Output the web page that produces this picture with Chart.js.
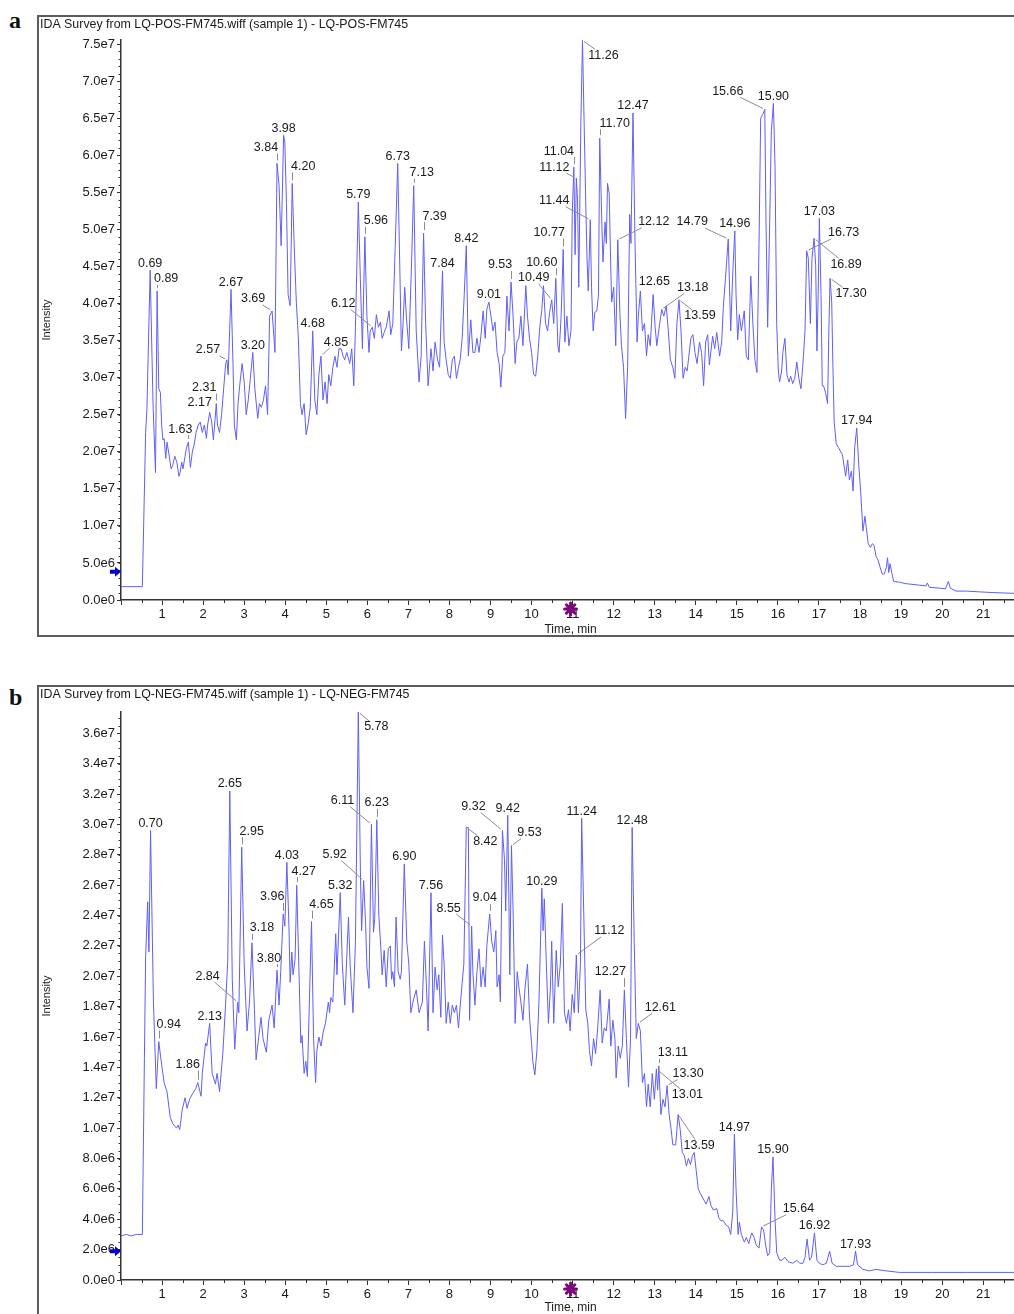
<!DOCTYPE html>
<html>
<head>
<meta charset="utf-8">
<script src="https://cdn.jsdelivr.net/npm/chart.js@4.4.0/dist/chart.umd.min.js"></script>
<style>
body{margin:0;background:#fff;width:1014px;height:1314px;position:relative;overflow:hidden;font-family:"Liberation Sans",Arial,sans-serif}
.panel{position:absolute;left:37px}
.tag{position:absolute;left:9px;font:bold 24px/24px "Liberation Serif","Times New Roman",serif;color:#111}
</style>
</head>
<body>
<div class="tag" style="top:8px">a</div>
<div class="panel" style="top:15px"><canvas id="posChart" width="977" height="622"></canvas></div>
<div class="tag" style="top:685px">b</div>
<div class="panel" style="top:685px"><canvas id="negChart" width="977" height="629"></canvas></div>
<script>
// intensities are in units of 1e7 counts, time in minutes
const posTrace = [
  [0.00,0.18],[0.30,0.18],[0.52,0.18],[0.60,2.26],[0.63,2.55],[0.71,4.45],[0.78,2.65],[0.84,1.72],[0.88,4.17],[0.92,2.85],
  [0.96,2.80],[0.99,2.36],[1.02,2.16],[1.05,2.18],[1.09,1.91],[1.12,2.13],[1.17,1.96],[1.22,1.77],[1.26,1.82],[1.31,1.94],
  [1.36,1.86],[1.41,1.67],[1.44,1.72],[1.48,1.86],[1.51,1.77],[1.56,1.94],[1.59,2.04],[1.64,2.13],[1.69,1.79],[1.74,2.01],
  [1.78,2.09],[1.83,2.26],[1.88,2.36],[1.93,2.40],[1.98,2.26],[2.03,2.36],[2.08,2.18],[2.11,2.36],[2.16,2.53],[2.21,2.40],
  [2.25,2.16],[2.29,2.43],[2.32,2.65],[2.35,2.36],[2.40,2.26],[2.45,2.50],[2.50,2.85],[2.55,3.19],[2.58,3.24],[2.61,3.04],
  [2.68,4.19],[2.73,3.14],[2.76,2.36],[2.81,2.16],[2.85,2.65],[2.90,2.94],[2.95,3.19],[3.00,2.94],[3.05,2.50],[3.10,2.70],
  [3.15,2.99],[3.21,3.34],[3.26,2.85],[3.33,2.45],[3.37,2.65],[3.42,2.60],[3.47,2.70],[3.52,2.89],[3.57,2.50],[3.62,3.83],
  [3.68,3.90],[3.75,3.34],[3.80,5.89],[3.85,5.59],[3.90,4.78],[3.93,5.49],[3.96,6.27],[3.99,6.18],[4.03,5.35],[4.07,4.12],
  [4.12,3.97],[4.17,5.62],[4.22,4.76],[4.27,4.02],[4.32,3.53],[4.37,2.65],[4.41,2.50],[4.46,2.65],[4.51,2.23],[4.56,2.38],
  [4.61,2.60],[4.67,3.63],[4.72,2.70],[4.77,2.50],[4.82,3.04],[4.87,3.29],[4.92,2.70],[4.97,2.94],[5.02,2.65],[5.06,3.04],
  [5.11,2.89],[5.16,3.14],[5.21,3.29],[5.26,3.14],[5.31,3.39],[5.36,3.39],[5.41,3.29],[5.45,3.24],[5.50,3.34],[5.57,3.19],
  [5.62,3.39],[5.67,2.89],[5.71,3.68],[5.78,5.37],[5.83,4.32],[5.88,3.39],[5.94,4.90],[5.99,3.83],[6.04,3.34],[6.07,3.63],
  [6.12,3.68],[6.17,3.53],[6.22,3.85],[6.27,3.68],[6.32,3.75],[6.36,3.53],[6.41,3.61],[6.46,3.68],[6.53,3.90],[6.57,3.58],
  [6.62,3.73],[6.67,4.61],[6.74,5.89],[6.79,4.51],[6.83,3.36],[6.87,3.73],[6.91,4.22],[6.95,3.83],[7.01,3.39],[7.08,4.61],
  [7.13,5.59],[7.19,3.63],[7.26,2.94],[7.31,3.29],[7.37,4.95],[7.42,3.73],[7.48,2.89],[7.55,3.39],[7.60,3.09],[7.65,3.48],
  [7.71,3.24],[7.76,3.14],[7.83,4.44],[7.87,3.48],[7.92,3.24],[7.97,3.04],[8.02,2.99],[8.07,3.24],[8.12,3.29],[8.17,2.99],
  [8.22,3.14],[8.26,3.24],[8.31,3.53],[8.36,4.12],[8.41,4.78],[8.46,3.29],[8.52,3.78],[8.57,3.34],[8.62,3.34],[8.67,3.53],
  [8.72,3.34],[8.77,3.58],[8.82,3.90],[8.87,3.53],[8.91,3.92],[8.96,4.02],[9.01,3.83],[9.06,3.63],[9.11,3.75],[9.16,3.34],
  [9.21,3.19],[9.25,2.87],[9.30,3.29],[9.35,3.34],[9.40,4.10],[9.45,3.63],[9.50,4.29],[9.55,3.83],[9.60,3.19],[9.64,3.48],
  [9.69,3.53],[9.74,3.83],[9.79,3.43],[9.86,4.24],[9.90,3.83],[9.95,3.53],[10.00,3.34],[10.05,3.04],[10.10,3.02],[10.15,3.29],
  [10.20,3.68],[10.25,3.92],[10.29,4.24],[10.34,3.73],[10.39,3.63],[10.44,3.88],[10.49,4.05],[10.54,3.73],[10.59,4.34],[10.64,3.43],
  [10.67,3.34],[10.72,3.83],[10.77,4.73],[10.81,3.48],[10.86,3.83],[10.91,3.43],[10.96,3.63],[10.99,5.20],[11.03,5.84],[11.06,4.66],
  [11.09,5.69],[11.12,5.40],[11.15,4.22],[11.20,6.43],[11.24,7.55],[11.28,6.43],[11.32,5.35],[11.35,4.61],[11.38,4.17],[11.43,5.13],
  [11.46,4.22],[11.50,3.63],[11.54,3.88],[11.59,3.90],[11.63,4.12],[11.66,6.23],[11.71,5.10],[11.74,4.56],[11.79,5.10],[11.82,4.81],
  [11.85,5.62],[11.89,5.49],[11.92,4.71],[11.95,4.02],[12.00,4.22],[12.05,3.43],[12.10,4.86],[12.15,3.88],[12.19,3.43],[12.24,3.14],
  [12.29,2.45],[12.34,3.14],[12.39,5.20],[12.42,4.81],[12.47,6.57],[12.52,4.81],[12.57,3.48],[12.60,3.83],[12.65,4.17],[12.70,3.63],
  [12.75,3.73],[12.80,3.29],[12.84,3.58],[12.89,3.43],[12.96,4.12],[13.01,3.68],[13.05,3.43],[13.12,3.73],[13.17,3.92],[13.22,3.83],
  [13.28,3.97],[13.33,3.63],[13.38,3.24],[13.44,3.14],[13.49,2.99],[13.54,3.73],[13.59,4.05],[13.64,3.63],[13.69,2.99],[13.74,3.14],
  [13.79,3.09],[13.83,3.29],[13.88,3.53],[13.93,3.58],[13.98,3.34],[14.03,3.19],[14.09,3.48],[14.14,3.34],[14.19,2.89],[14.24,3.48],
  [14.29,3.58],[14.33,3.17],[14.41,3.56],[14.46,3.39],[14.51,3.61],[14.58,3.29],[14.63,3.48],[14.67,3.95],[14.72,4.32],[14.79,4.87],
  [14.85,3.63],[14.90,4.41],[14.95,4.98],[14.98,4.12],[15.02,3.51],[15.06,3.85],[15.11,3.63],[15.18,3.90],[15.23,3.29],[15.28,3.24],
  [15.34,4.37],[15.39,3.73],[15.44,3.24],[15.49,3.07],[15.54,4.81],[15.58,6.50],[15.63,6.55],[15.68,6.62],[15.71,5.10],[15.75,3.68],
  [15.80,5.10],[15.84,6.33],[15.89,6.70],[15.93,5.84],[15.97,3.73],[16.01,3.09],[16.04,2.94],[16.09,3.09],[16.12,3.34],[16.17,3.53],
  [16.22,3.04],[16.27,2.94],[16.31,3.02],[16.36,2.92],[16.41,2.99],[16.46,3.21],[16.51,2.99],[16.56,2.85],[16.61,3.19],[16.66,3.63],
  [16.70,4.71],[16.74,4.61],[16.79,3.73],[16.83,4.61],[16.88,4.88],[16.92,4.51],[16.95,3.36],[16.98,4.12],[17.01,5.15],[17.05,4.12],
  [17.08,2.89],[17.11,2.89],[17.16,2.80],[17.21,2.65],[17.24,3.63],[17.27,4.34],[17.31,4.02],[17.34,3.14],[17.37,2.40],[17.42,2.11],
  [17.47,2.06],[17.52,2.01],[17.57,1.96],[17.61,1.82],[17.65,1.67],[17.70,1.89],[17.74,1.62],[17.79,1.74],[17.83,1.47],[17.87,2.06],
  [17.92,2.32],[17.97,1.82],[18.02,1.42],[18.07,0.93],[18.12,1.13],[18.15,0.98],[18.20,0.76],[18.25,0.71],[18.30,0.76],[18.34,0.74],
  [18.39,0.59],[18.44,0.54],[18.49,0.44],[18.54,0.35],[18.59,0.35],[18.64,0.44],[18.67,0.57],[18.70,0.37],[18.73,0.49],[18.78,0.35],
  [18.82,0.25],[18.96,0.24],[19.12,0.22],[19.29,0.21],[19.45,0.20],[19.61,0.19],[19.64,0.23],[19.69,0.17],[19.94,0.16],[20.08,0.15],
  [20.15,0.25],[20.20,0.16],[20.34,0.12],[20.59,0.12],[20.91,0.11],[21.24,0.10],[21.75,0.09]
];

const negTrace = [
  [0.00,0.29],[0.13,0.30],[0.25,0.29],[0.37,0.30],[0.52,0.30],[0.57,1.46],[0.60,2.13],[0.65,2.49],[0.68,2.16],[0.72,2.96],
  [0.79,1.83],[0.86,1.26],[0.92,1.57],[0.97,1.46],[1.05,1.30],[1.12,1.24],[1.20,1.07],[1.26,1.03],[1.35,1.00],[1.39,1.02],
  [1.43,0.99],[1.49,1.12],[1.56,1.20],[1.61,1.13],[1.67,1.19],[1.75,1.23],[1.82,1.26],[1.87,1.30],[1.95,1.21],[1.98,1.36],
  [2.06,1.56],[2.09,1.54],[2.16,1.69],[2.22,1.36],[2.30,1.29],[2.34,1.36],[2.40,1.24],[2.48,1.49],[2.55,1.83],[2.60,2.10],
  [2.65,3.22],[2.71,1.98],[2.77,1.52],[2.84,1.83],[2.87,1.76],[2.94,2.85],[3.00,2.08],[3.07,1.64],[3.13,1.83],[3.19,2.22],
  [3.25,1.78],[3.29,1.45],[3.41,1.73],[3.46,1.59],[3.54,1.50],[3.60,1.71],[3.68,1.81],[3.73,1.66],[3.80,2.04],[3.85,1.81],
  [3.89,2.03],[3.95,2.41],[3.99,2.33],[4.04,2.75],[4.09,2.33],[4.12,1.96],[4.16,2.16],[4.19,2.01],[4.24,2.11],[4.28,2.60],
  [4.33,2.08],[4.38,1.56],[4.41,1.61],[4.46,1.36],[4.50,1.44],[4.54,1.34],[4.64,2.36],[4.69,1.59],[4.74,1.30],[4.77,1.51],
  [4.82,1.60],[4.87,1.54],[4.93,1.64],[4.98,1.69],[5.05,1.83],[5.08,1.76],[5.11,1.86],[5.16,1.83],[5.23,2.28],[5.26,2.01],
  [5.34,2.55],[5.39,2.08],[5.45,1.81],[5.54,2.39],[5.58,2.08],[5.65,1.76],[5.71,2.23],[5.78,3.74],[5.83,2.70],[5.86,2.30],
  [5.91,2.63],[5.96,2.33],[5.99,2.06],[6.04,1.92],[6.10,3.00],[6.15,2.29],[6.18,2.38],[6.23,3.03],[6.28,2.40],[6.33,2.18],
  [6.36,2.01],[6.41,2.17],[6.46,1.93],[6.51,2.18],[6.56,2.20],[6.59,1.98],[6.62,2.03],[6.66,1.93],[6.70,2.39],[6.75,2.03],
  [6.80,1.98],[6.83,2.03],[6.90,2.74],[6.96,2.23],[7.01,2.08],[7.06,1.76],[7.11,1.83],[7.19,1.91],[7.26,1.76],[7.34,1.83],
  [7.39,2.23],[7.44,1.93],[7.48,1.64],[7.55,2.55],[7.60,1.76],[7.65,2.06],[7.70,1.91],[7.74,2.01],[7.79,1.73],[7.83,2.27],
  [7.87,2.08],[7.92,1.69],[7.97,1.83],[8.02,1.69],[8.07,1.81],[8.12,1.76],[8.17,1.81],[8.22,1.66],[8.26,1.80],[8.31,1.96],
  [8.35,2.08],[8.41,2.98],[8.46,2.98],[8.49,1.71],[8.54,2.33],[8.57,2.03],[8.62,1.81],[8.67,2.03],[8.72,2.18],[8.77,1.93],
  [8.82,2.06],[8.87,1.93],[8.91,2.20],[8.98,2.41],[9.03,2.23],[9.08,2.16],[9.13,2.30],[9.16,1.93],[9.21,2.01],[9.24,1.83],
  [9.29,2.96],[9.34,2.77],[9.37,2.43],[9.42,3.06],[9.47,2.01],[9.51,2.86],[9.55,2.43],[9.60,1.69],[9.65,2.03],[9.69,1.93],
  [9.74,1.83],[9.79,1.71],[9.84,1.92],[9.90,2.08],[9.95,1.73],[10.00,1.56],[10.03,1.44],[10.08,1.35],[10.13,1.51],[10.18,1.83],
  [10.25,2.58],[10.28,2.30],[10.31,2.51],[10.36,2.08],[10.41,1.69],[10.46,1.93],[10.49,2.23],[10.54,1.69],[10.60,2.17],[10.65,1.93],
  [10.70,2.08],[10.75,2.48],[10.80,1.76],[10.85,1.69],[10.90,1.78],[10.94,1.64],[10.99,1.88],[11.04,1.76],[11.09,2.14],[11.14,1.76],
  [11.19,2.08],[11.22,3.04],[11.27,2.43],[11.32,1.78],[11.37,1.69],[11.41,1.51],[11.46,1.41],[11.51,1.59],[11.56,1.49],[11.61,1.66],
  [11.67,1.91],[11.72,1.56],[11.77,1.66],[11.82,1.64],[11.89,1.85],[11.93,1.54],[11.98,1.71],[12.03,1.59],[12.06,1.33],[12.11,1.54],
  [12.16,1.46],[12.21,1.54],[12.26,1.91],[12.31,1.59],[12.36,1.27],[12.41,1.59],[12.45,2.98],[12.50,2.23],[12.55,1.59],[12.60,1.69],
  [12.65,1.64],[12.70,1.30],[12.75,1.36],[12.80,1.14],[12.84,1.29],[12.89,1.14],[12.94,1.36],[12.99,1.19],[13.04,1.39],[13.07,1.25],
  [13.10,1.41],[13.15,1.09],[13.20,1.19],[13.25,1.14],[13.30,1.28],[13.35,1.09],[13.40,0.99],[13.44,0.89],[13.51,0.89],[13.57,1.09],
  [13.62,0.99],[13.67,0.84],[13.72,0.82],[13.77,0.75],[13.82,0.80],[13.87,0.76],[13.92,0.82],[13.96,0.84],[14.01,0.72],[14.06,0.60],
  [14.11,0.57],[14.17,0.54],[14.21,0.52],[14.25,0.50],[14.32,0.55],[14.37,0.49],[14.43,0.46],[14.51,0.47],[14.56,0.41],[14.61,0.39],
  [14.67,0.39],[14.74,0.36],[14.80,0.35],[14.85,0.30],[14.90,0.45],[14.94,0.96],[14.98,0.60],[15.03,0.30],[15.06,0.38],[15.11,0.30],
  [15.18,0.25],[15.23,0.28],[15.29,0.24],[15.36,0.31],[15.42,0.28],[15.47,0.23],[15.54,0.21],[15.60,0.35],[15.65,0.33],[15.70,0.23],
  [15.75,0.16],[15.80,0.18],[15.84,0.60],[15.88,0.81],[15.93,0.40],[15.97,0.18],[16.04,0.13],[16.10,0.13],[16.17,0.15],[16.25,0.12],
  [16.36,0.11],[16.46,0.13],[16.53,0.11],[16.61,0.11],[16.66,0.15],[16.71,0.27],[16.77,0.13],[16.82,0.15],[16.89,0.31],[16.95,0.13],
  [17.01,0.11],[17.09,0.10],[17.18,0.11],[17.26,0.19],[17.32,0.11],[17.42,0.09],[17.58,0.09],[17.74,0.09],[17.84,0.10],[17.89,0.19],
  [17.94,0.10],[18.07,0.07],[18.23,0.06],[18.39,0.07],[18.64,0.06],[18.96,0.05],[19.77,0.05],[20.59,0.05],[21.75,0.05]
];

const posPeaks = ['0.69','0.89','1.63','2.17','2.31','2.57','2.67','3.20','3.69','3.84','3.98','4.20','4.68','4.85',
  '5.79','5.96','6.12','6.73','7.13','7.39','7.84','8.42','9.01','9.53','10.49','10.60','10.77','11.04','11.12',
  '11.26','11.44','11.70','12.12','12.47','12.65','13.18','13.59','14.79','14.96','15.66','15.90','16.73','16.89',
  '17.03','17.30','17.94'];
const negPeaks = ['0.70','0.94','1.86','2.13','2.65','2.84','2.95','3.18','3.80','3.96','4.03','4.27','4.65','5.32',
  '5.78','5.92','6.11','6.23','6.90','7.56','8.42','8.55','9.04','9.32','9.42','9.53','10.29','11.12','11.24',
  '12.27','12.48','12.61','13.01','13.11','13.30','13.59','14.97','15.64','15.90','16.92','17.93'];

const timeTicks = [0,1,2,3,4,5,6,7,8,9,10,11,12,13,14,15,16,17,18,19,20,21];
const posYTicks = [0,0.5,1.0,1.5,2.0,2.5,3.0,3.5,4.0,4.5,5.0,5.5,6.0,6.5,7.0,7.5];
const negYTicks = [0,0.2,0.4,0.6,0.8,1.0,1.2,1.4,1.6,1.8,2.0,2.2,2.4,2.6,2.8,3.0,3.2,3.4,3.6];

// where each peak label sits relative to its apex (px), default is just above it
const posLabelOffsets = {'0.89':[9,-12],'1.63':[-8,-13],'2.17':[-10,-10],'2.31':[-12,-16],'2.57':[-19,-10],
  '3.69':[-19,-12],'3.84':[-11,-16],'4.20':[11,-17],'4.85':[15,-14],'5.96':[11,-16],'6.12':[-29,-24],
  '7.13':[8,-13],'7.39':[11,-17],'9.53':[-11,-17],'10.49':[-18,-22],'10.60':[-14,-16],'10.77':[-14,-17],
  '11.04':[-15,-16],'11.12':[-22,-11],'11.26':[21,15],'11.44':[-36,-19],'11.70':[15,-15],'12.12':[36,-18],
  '12.65':[14,-9],'13.18':[31,-22],'13.59':[21,16],'14.79':[-36,-17],'15.66':[-37,-18],'16.73':[37,-18],
  '16.89':[32,26],'17.30':[21,15]};
const negLabelOffsets = {'0.94':[10,-17],'1.86':[-10,-18],'2.84':[-30,-26],'2.95':[10,-16],'3.18':[10,-15],
  '3.80':[-8,-12],'3.96':[-11,-17],'4.27':[7,-14],'4.65':[10,-17],'5.78':[18,15],'5.92':[-29,-26],
  '6.11':[-29,-24],'6.23':[0,-17],'8.55':[-23,-18],'8.42':[19,14],'9.04':[-5,-16],'9.32':[-29,-24],
  '9.53':[18,-13],'11.12':[33,-24],'12.27':[-14,-18],'12.61':[22,-16],'13.11':[14,-13],'13.30':[21,-12],
  '13.01':[31,26],'13.59':[21,31],'15.64':[37,-18]};

const FONT = '"Liberation Sans", Arial, sans-serif';
const TXT = '#1a1a1a';

function drawLabels(chart, trace, peaks, offsets){
  const {ctx} = chart, x = chart.scales.x, y = chart.scales.y;
  ctx.save();
  ctx.font = '12.5px ' + FONT;
  ctx.textAlign = 'center'; ctx.textBaseline = 'middle';
  peaks.forEach(lbl => {
    const t = parseFloat(lbl);
    let best = null;
    trace.forEach(p => { if (Math.abs(p[0]-t) <= 0.06 && (!best || p[1] > best[1])) best = p; });
    if (!best) return;
    const px = x.getPixelForValue(best[0]), py = y.getPixelForValue(best[1]*1e7);
    const off = offsets[lbl] || [0,-7];
    const cx = px+off[0], cy = py+off[1];
    const hw = ctx.measureText(lbl).width/2 + 1, hh = 6;
    ctx.strokeStyle = '#8c8c8c'; ctx.lineWidth = 1;
    ctx.beginPath();
    if (off[1] < 0 && Math.abs(off[0]) <= hw+1){
      const top = cy+hh, bot = py-3;
      if (bot-top > 2){ ctx.moveTo(Math.round(px)+0.5, top); ctx.lineTo(Math.round(px)+0.5, bot); }
    } else {
      const dx = px-cx, dy = py-cy, len = Math.hypot(dx,dy);
      const f = Math.min(hw/Math.max(Math.abs(dx),1e-6), hh/Math.max(Math.abs(dy),1e-6));
      const ex = cx+dx*f, ey = cy+dy*f, sx = px-dx/len*2, sy = py-dy/len*2;
      if (Math.hypot(sx-ex, sy-ey) > 3){ ctx.moveTo(ex,ey); ctx.lineTo(sx,sy); }
    }
    ctx.stroke();
    ctx.fillStyle = TXT;
    ctx.fillText(lbl, cx, cy);
  });
  ctx.restore();
}

function makeChart(id, trace, cfg){
  const canvas = document.getElementById(id);
  const W = canvas.width, H = canvas.height;
  const deco = {
    id: 'deco',
    afterDraw(chart){
      const {ctx, chartArea:a} = chart, x = chart.scales.x, y = chart.scales.y;
      ctx.save();
      // frame
      ctx.strokeStyle = '#5c5c5c'; ctx.lineWidth = 2;
      ctx.strokeRect(1, 1, W+4, cfg.frameBottom);
      // title
      ctx.fillStyle = TXT; ctx.font = '12.4px ' + FONT;
      ctx.textAlign = 'left'; ctx.textBaseline = 'middle';
      ctx.fillText(cfg.title, 3, 10);
      // minor ticks
      ctx.strokeStyle = '#333'; ctx.lineWidth = 1;
      ctx.beginPath();
      for (let v = 0; v <= cfg.yMax + 1e-9; v += cfg.yMinor){
        const py = Math.round(y.getPixelForValue(v*1e7))+0.5;
        ctx.moveTo(a.left-2.5, py); ctx.lineTo(a.left, py);
      }
      for (let t = 0.5; t < x.max; t += 1){
        const px = Math.round(x.getPixelForValue(t))+0.5;
        ctx.moveTo(px, a.bottom); ctx.lineTo(px, a.bottom+3);
      }
      ctx.stroke();
      // axis titles
      ctx.textAlign = 'center';
      ctx.font = '12px ' + FONT;
      ctx.fillText('Time, min', x.getPixelForValue(10.95), a.bottom + cfg.xTitleGap);
      ctx.save();
      ctx.translate(10, (a.top+a.bottom)/2); ctx.rotate(-Math.PI/2);
      ctx.font = '11px ' + FONT;
      ctx.fillText('Intensity', 0, 0);
      ctx.restore();
      // threshold arrow on the y axis
      const ay = y.getPixelForValue(cfg.markerY*1e7), ax = a.left-6;
      ctx.fillStyle = '#0000d0';
      ctx.beginPath();
      ctx.moveTo(ax-5, ay-2); ctx.lineTo(ax, ay-2); ctx.lineTo(ax, ay-5); ctx.lineTo(ax+6, ay);
      ctx.lineTo(ax, ay+5); ctx.lineTo(ax, ay+2); ctx.lineTo(ax-5, ay+2); ctx.closePath();
      ctx.fill();
      // purple asterisk on the time axis
      const sx = x.getPixelForValue(10.95), sy = a.bottom+9;
      ctx.strokeStyle = '#7a0a7a'; ctx.lineWidth = 3; ctx.lineCap = 'round';
      ctx.beginPath();
      for (let k = 0; k < 4; k++){
        const ang = k*Math.PI/4;
        ctx.moveTo(sx-Math.cos(ang)*6, sy-Math.sin(ang)*6);
        ctx.lineTo(sx+Math.cos(ang)*6, sy+Math.sin(ang)*6);
      }
      ctx.stroke();
      ctx.restore();
      drawLabels(chart, trace, cfg.peaks, cfg.offsets);
    }
  };
  return new Chart(canvas.getContext('2d'), {
    type: 'line',
    data: {datasets: [{
      data: trace.map(p => ({x: p[0], y: p[1]*1e7})),
      borderColor: 'rgb(95,95,248)', borderWidth: 1, pointRadius: 0, tension: 0, fill: false
    }]},
    options: {
      responsive: false, animation: false, events: [],
      layout: {padding: {top: cfg.padTop, left: 0, right: 0, bottom: 0}},
      plugins: {legend: {display: false}, tooltip: {enabled: false}},
      scales: {
        x: {
          type: 'linear', min: 0, max: 21.75,
          afterBuildTicks: s => { s.ticks = timeTicks.map(v => ({value: v})); },
          afterFit: s => { s.height = cfg.xAxisH; },
          ticks: {includeBounds: false, autoSkip: false, maxRotation: 0, padding: 2, color: TXT,
            font: {family: FONT, size: 13}, callback: v => v === 0 ? '' : String(v)},
          grid: {drawOnChartArea: false, drawTicks: true, tickLength: 5, color: '#333'},
          border: {display: true, color: '#333', width: 1.5}
        },
        y: {
          min: 0, max: cfg.yMax*1e7,
          afterBuildTicks: s => { s.ticks = cfg.yTicks.map(v => ({value: v*1e7})); },
          afterFit: s => { s.width = 84; },
          ticks: {includeBounds: false, autoSkip: false, padding: 2, color: TXT,
            font: {family: FONT, size: 13}, callback: v => v.toExponential(1).replace('+','')},
          grid: {drawOnChartArea: false, drawTicks: true, tickLength: 4, color: '#333'},
          border: {display: true, color: '#333', width: 1.5}
        }
      }
    },
    plugins: [deco]
  });
}

makeChart('posChart', posTrace, {
  title: 'IDA Survey from LQ-POS-FM745.wiff (sample 1) - LQ-POS-FM745',
  yMax: 7.555, yTicks: posYTicks, yMinor: 0.1, padTop: 25, xAxisH: 37, frameBottom: 620, xTitleGap: 30,
  markerY: 0.38, peaks: posPeaks, offsets: posLabelOffsets
});
makeChart('negChart', negTrace, {
  title: 'IDA Survey from LQ-NEG-FM745.wiff (sample 1) - LQ-NEG-FM745',
  yMax: 3.74, yTicks: negYTicks, yMinor: 0.05, padTop: 27, xAxisH: 34, frameBottom: 700, xTitleGap: 28,
  markerY: 0.19, peaks: negPeaks, offsets: negLabelOffsets
});
</script>
</body>
</html>
